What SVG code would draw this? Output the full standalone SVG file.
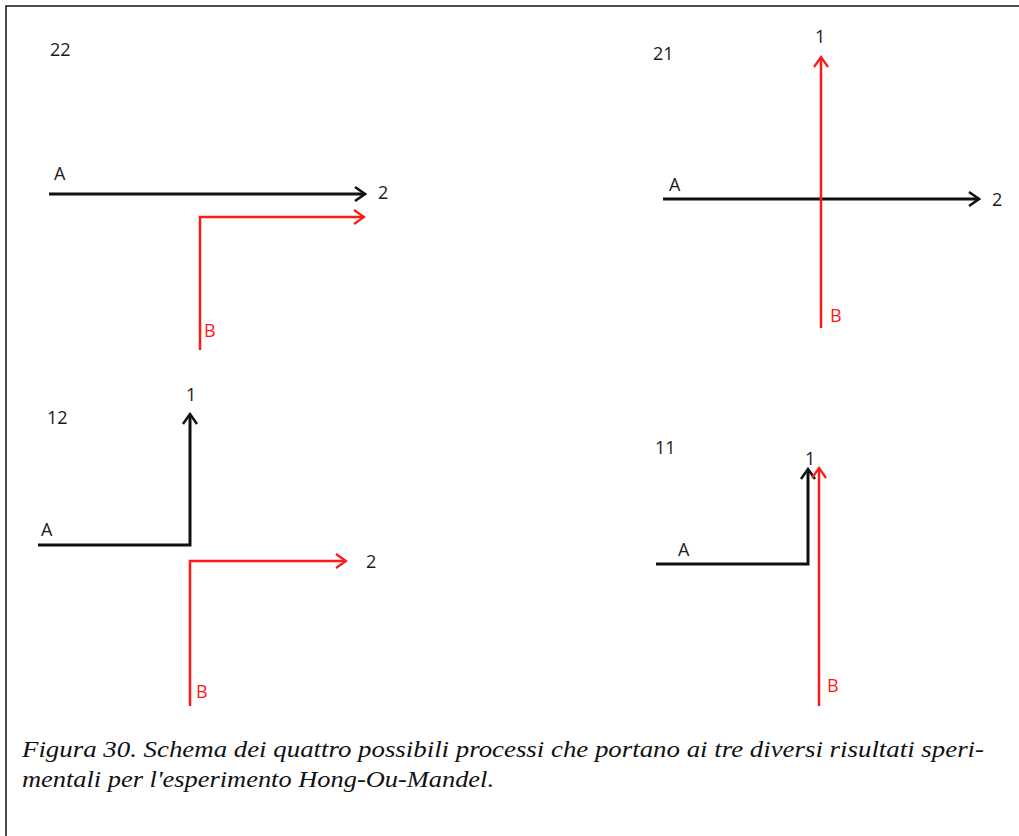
<svg xmlns="http://www.w3.org/2000/svg" width="1019" height="836" viewBox="0 0 1019 836">
<style>
.lbl{font-family:"Open Sans","Liberation Sans",sans-serif;font-size:18px;fill:#1a1a1a}
.red{fill:#ff1a1a}
.bk{stroke:#111;stroke-width:3;fill:none}
.rd{stroke:#ff1a1a;stroke-width:2.5;fill:none}
.cap{font-family:"Liberation Serif","Times New Roman",serif;font-style:italic;font-size:24px;fill:#111}
</style>
<defs>
<marker id="ab" markerUnits="userSpaceOnUse" viewBox="-12 -9 14 18" refX="0" refY="0" markerWidth="14" markerHeight="18" orient="auto">
<path d="M-10,-7 L0,0 L-10,7" fill="none" stroke="#111" stroke-width="2.5"/>
</marker>
<marker id="ar" markerUnits="userSpaceOnUse" viewBox="-12 -9 14 18" refX="0" refY="0" markerWidth="14" markerHeight="18" orient="auto">
<path d="M-10,-7 L0,0 L-10,7" fill="none" stroke="#ff1a1a" stroke-width="2.2"/>
</marker>
</defs>
<rect x="0" y="0" width="1019" height="836" fill="#fff"/>
<rect x="6" y="6" width="1030" height="850" fill="none" stroke="#111" stroke-width="1.5"/>
<g id="connectors">
<path class="bk" d="M49,194 L365,194" marker-end="url(#ab)"/>
<path class="rd" d="M200,350 L200,217 L364,217" marker-end="url(#ar)"/>
<path class="bk" d="M663,199 L979,199" marker-end="url(#ab)"/>
<path class="rd" d="M821,328 L821,57" marker-end="url(#ar)"/>
<path class="bk" d="M38,545 L190,545 L190,414" marker-end="url(#ab)"/>
<path class="rd" d="M190,706 L190,561 L346,561" marker-end="url(#ar)"/>
<path class="bk" d="M656,564 L808,564 L808,469" marker-end="url(#ab)"/>
<path class="rd" d="M819,706 L819,468" marker-end="url(#ar)"/>
</g>
<g id="p22">
<text class="lbl" x="50" y="56">22</text>
<text class="lbl" x="54" y="180">A</text>
<text class="lbl" x="378" y="199">2</text>
<text class="lbl red" x="204" y="337">B</text>
</g>
<g id="p21">
<text class="lbl" x="653" y="60">21</text>
<text class="lbl" x="815" y="43">1</text>
<text class="lbl" x="669" y="191">A</text>
<text class="lbl" x="992" y="206">2</text>
<text class="lbl red" x="830" y="322">B</text>
</g>
<g id="p12">
<text class="lbl" x="47" y="424">12</text>
<text class="lbl" x="186" y="401">1</text>
<text class="lbl" x="41" y="536">A</text>
<text class="lbl" x="366" y="568">2</text>
<text class="lbl red" x="196" y="698">B</text>
</g>
<g id="p11">
<text class="lbl" x="655" y="454">11</text>
<text class="lbl" x="805" y="465">1</text>
<text class="lbl" x="678" y="556">A</text>
<text class="lbl red" x="827" y="692">B</text>
</g>
<g id="caption">
<text class="cap" x="22" y="757" textLength="962" lengthAdjust="spacingAndGlyphs">Figura 30.  Schema dei quattro possibili processi che portano ai tre diversi risultati speri-</text>
<text class="cap" x="22" y="787" textLength="472" lengthAdjust="spacingAndGlyphs">mentali per l'esperimento Hong-Ou-Mandel.</text>
</g>
</svg>
